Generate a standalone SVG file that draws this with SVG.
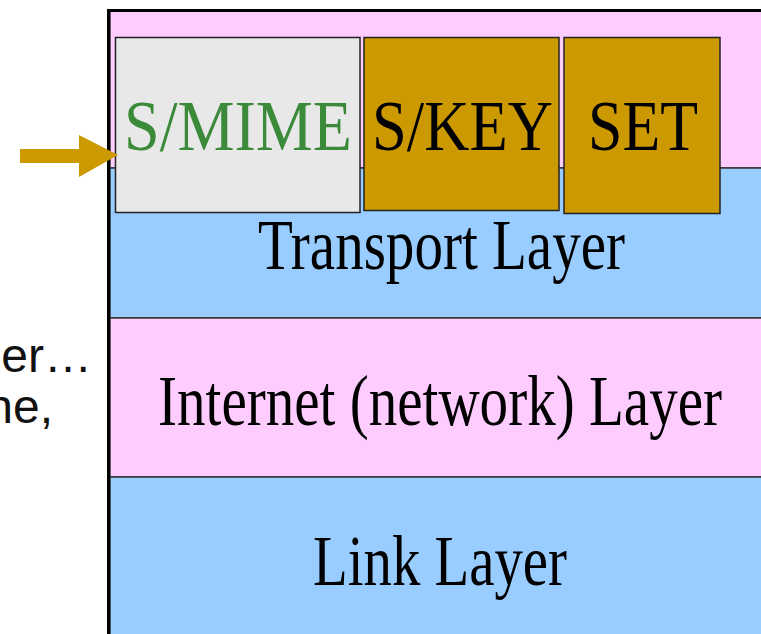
<svg xmlns="http://www.w3.org/2000/svg" width="761" height="634" viewBox="0 0 761 634">
  <defs>
    <style>
      .layer { stroke: #333; stroke-width: 1.5; }
      .pink { fill: #FFCCFF; }
      .blue { fill: #99CCFF; }
      .box { stroke: #222; stroke-width: 1.5; }
      .serif { font-family: "Liberation Serif", "Times New Roman", serif; font-size: 71px; }
      .sans { font-family: "Liberation Sans", Arial, sans-serif; font-size: 48px; fill: #111; }
    </style>
    <marker id="head" markerUnits="userSpaceOnUse" markerWidth="40" markerHeight="42" refX="0" refY="21" orient="auto" viewBox="0 0 40 42">
      <path d="M0,0 L39,20 L0,42 Z" fill="#CC9900"/>
    </marker>
  </defs>
  <rect x="0" y="0" width="761" height="634" fill="#FFFFFF"/>

  <g id="side-text">
    <text class="sans" x="92" y="372" text-anchor="end">er…</text>
    <text class="sans" x="53" y="423" text-anchor="end">ne,</text>
  </g>

  <g id="application-layer">
    <rect class="layer pink" x="110" y="11" width="660" height="157"/>
  </g>
  <g id="transport-layer">
    <rect class="layer blue" x="110" y="168" width="660" height="150"/>
    <text class="serif" x="258" y="269" textLength="367" lengthAdjust="spacingAndGlyphs" fill="#000">Transport Layer</text>
  </g>
  <g id="internet-layer">
    <rect class="layer pink" x="110" y="318" width="660" height="159"/>
    <text class="serif" x="158" y="425" textLength="564" lengthAdjust="spacingAndGlyphs" fill="#000">Internet (network) Layer</text>
  </g>
  <g id="link-layer">
    <rect class="layer blue" x="110" y="477" width="660" height="160"/>
    <text class="serif" x="313" y="585" textLength="254" lengthAdjust="spacingAndGlyphs" fill="#000">Link Layer</text>
  </g>

  <g id="frame">
    <line x1="108.5" y1="9" x2="108.5" y2="634" stroke="#000" stroke-width="3"/>
    <line x1="107" y1="10.5" x2="761" y2="10.5" stroke="#000" stroke-width="3"/>
  </g>

  <g id="smime">
    <rect class="box" x="115.5" y="37.5" width="244.5" height="175" fill="#E8E8E8"/>
    <text class="serif" x="124" y="150" textLength="228" lengthAdjust="spacingAndGlyphs" fill="#3A8A3A">S/MIME</text>
  </g>
  <g id="skey">
    <rect class="box" x="364" y="37.5" width="195" height="173" fill="#CC9900"/>
    <text class="serif" x="372" y="150" textLength="181" lengthAdjust="spacingAndGlyphs" fill="#000">S/KEY</text>
  </g>
  <g id="set">
    <rect class="box" x="564" y="37.5" width="156" height="176" fill="#CC9900"/>
    <text class="serif" x="588" y="150" textLength="110" lengthAdjust="spacingAndGlyphs" fill="#000">SET</text>
  </g>

  <g id="connectors">
    <line x1="20" y1="156" x2="79" y2="156" stroke="#CC9900" stroke-width="14" marker-end="url(#head)"/>
  </g>
</svg>
